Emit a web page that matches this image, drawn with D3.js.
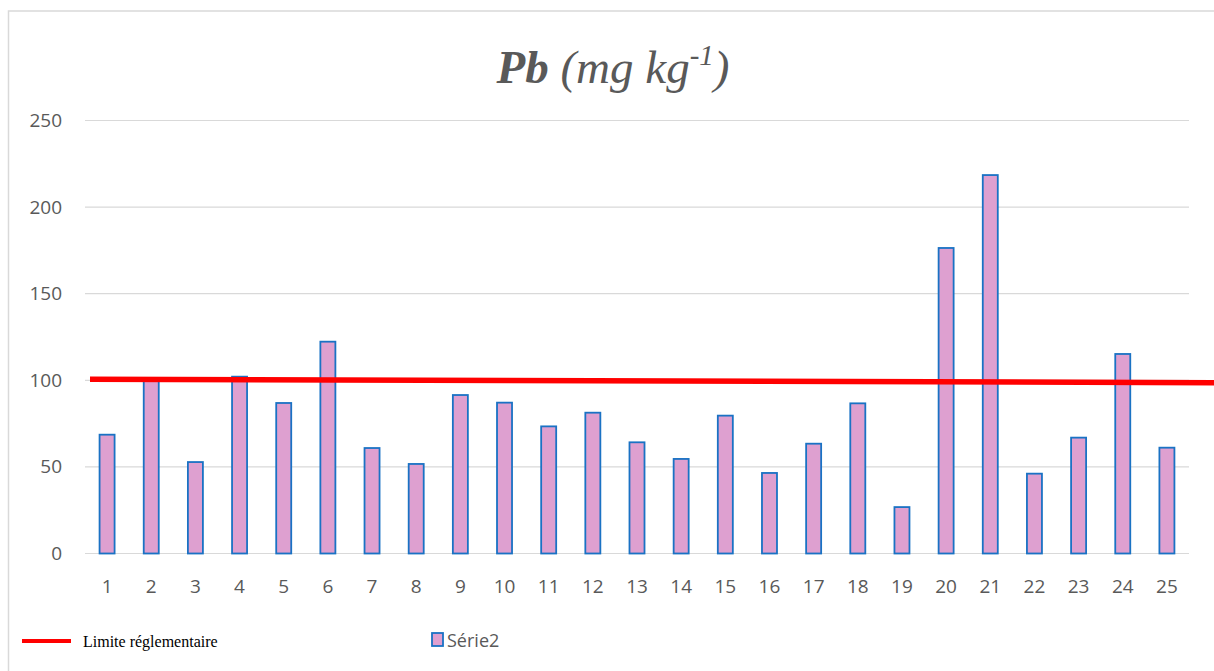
<!DOCTYPE html>
<html>
<head>
<meta charset="utf-8">
<script src="https://cdn.jsdelivr.net/npm/d3@7"></script>
<style>
  body { margin: 0; background: #fff; }
  svg { display: block; }
</style>
</head>
<body>
<div id="chart"></div>
<script>
// data
const sites = d3.range(1, 26).map(String);
const pbValues = [68.6, 100.4, 52.8, 102.1, 86.9, 122.3, 60.9, 51.7, 91.5, 87.1,
                  73.4, 81.3, 64.2, 54.6, 79.6, 46.5, 63.4, 86.7, 26.8, 176.4,
                  218.5, 46.1, 66.9, 115.2, 61.1];
const yTicks = [0, 50, 100, 150, 200, 250];
// regulatory limit line, drawn slightly sloped as in the original (start, end)
const limitValues = [100.6, 98.6];
const seriesName = "Série2";
const limitName = "Limite réglementaire";

const width = 1214;
const height = 671;
const margin = { top: 120.5, right: 25, bottom: 117.5, left: 85 };

const svg = d3.select("#chart")
    .append("svg")
    .attr("width", width)
    .attr("height", height);

// chart frame
svg.append("rect")
    .attr("x", 8.5)
    .attr("y", 11)
    .attr("width", width + 20)
    .attr("height", height + 20)
    .attr("fill", "#fff")
    .attr("stroke", "#d9d9d9")
    .attr("stroke-width", 1.5);

const xScale = d3.scaleBand()
    .domain(sites)
    .range([margin.left, width - margin.right])
    .paddingInner(0.66)
    .paddingOuter(0.33);

const yScale = d3.scaleLinear()
    .domain([0, 250])
    .range([height - margin.bottom, margin.top]);

// gridlines
svg.append("g")
    .selectAll("line")
    .data(yTicks)
    .enter()
    .append("line")
    .attr("x1", margin.left)
    .attr("x2", width - margin.right)
    .attr("y1", d => yScale(d))
    .attr("y2", d => yScale(d))
    .attr("stroke", "#d9d9d9")
    .attr("stroke-width", 1.2);

// y axis labels
const yAxis = svg.append("g")
    .attr("transform", `translate(${margin.left - 23}, 0)`)
    .call(d3.axisLeft(yScale).tickValues(yTicks).tickSize(0).tickPadding(0));
yAxis.select(".domain").remove();
yAxis.selectAll("text")
    .attr("fill", "#595959")
    .style("font-family", "'Open Sans', 'Noto Sans', sans-serif")
    .style("font-size", "19px");

// x axis labels
const xAxis = svg.append("g")
    .attr("transform", `translate(0, ${height - margin.bottom})`)
    .call(d3.axisBottom(xScale).tickSize(0).tickPadding(33));
xAxis.select(".domain").remove();
xAxis.selectAll("text")
    .attr("fill", "#595959")
    .attr("dy", "0.32em")
    .style("font-family", "'Open Sans', 'Noto Sans', sans-serif")
    .style("font-size", "19px");

// bars
svg.selectAll(".bar")
    .data(pbValues)
    .enter()
    .append("rect")
    .attr("class", "bar")
    .attr("x", (d, i) => xScale(sites[i]))
    .attr("y", d => yScale(d))
    .attr("width", xScale.bandwidth())
    .attr("height", d => yScale(0) - yScale(d))
    .attr("fill", "#dea0d0")
    .attr("stroke", "#1a72c4")
    .attr("stroke-width", 1.8);

// limit line, from just inside the plot to the right edge of the picture
svg.append("line")
    .attr("x1", margin.left + 5)
    .attr("x2", width)
    .attr("y1", yScale(limitValues[0]))
    .attr("y2", yScale(limitValues[1]))
    .attr("stroke", "#ff0000")
    .attr("stroke-width", 5.5);

// title
const title = svg.append("text")
    .attr("x", 613)
    .attr("y", 83)
    .attr("text-anchor", "middle")
    .attr("fill", "#595959")
    .style("font-family", "'Liberation Serif', 'Times New Roman', serif")
    .style("font-style", "italic")
    .style("font-size", "47px");
title.append("tspan").attr("font-weight", "bold").text("Pb");
title.append("tspan").text(" (mg kg");
title.append("tspan").attr("dy", -18).style("font-size", "29px").text("-1");
title.append("tspan").attr("dy", 18).text(")");

// legend
svg.append("line")
    .attr("x1", 22)
    .attr("x2", 71)
    .attr("y1", 641)
    .attr("y2", 641)
    .attr("stroke", "#ff0000")
    .attr("stroke-width", 4);

svg.append("text")
    .attr("x", 83)
    .attr("y", 646.5)
    .attr("fill", "#000")
    .style("font-family", "'Liberation Serif', 'Times New Roman', serif")
    .style("font-size", "16px")
    .text(limitName);

svg.append("rect")
    .attr("x", 432)
    .attr("y", 633)
    .attr("width", 11)
    .attr("height", 13)
    .attr("fill", "#dea0d0")
    .attr("stroke", "#1a72c4")
    .attr("stroke-width", 1.8);

svg.append("text")
    .attr("x", 447)
    .attr("y", 647)
    .attr("fill", "#595959")
    .style("font-family", "'Open Sans', 'Noto Sans', sans-serif")
    .style("font-size", "18px")
    .text(seriesName);
</script>
</body>
</html>
